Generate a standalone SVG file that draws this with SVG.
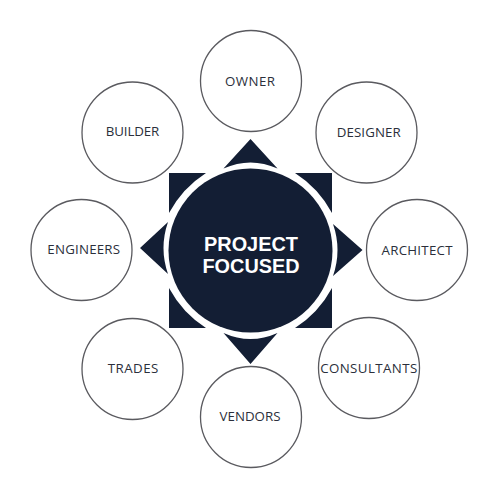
<svg xmlns="http://www.w3.org/2000/svg" width="500" height="500" viewBox="0 0 500 500">
  <style>
    .node circle { fill: #ffffff; stroke: #5a5a5f; stroke-width: 1.3; }
    .node text { font-family: "Open Sans", "Liberation Sans", sans-serif; font-size: 13.3px; fill: #2b2f3b; text-anchor: middle; }
    .dark { fill: #131e34; }
    .center-label { font-family: "Liberation Sans", Arial, sans-serif; font-weight: 700; font-size: 19.5px; fill: #ffffff; text-anchor: middle; }
  </style>
  <rect width="500" height="500" fill="#ffffff"/>

  <g id="node-owner" class="node">
    <circle cx="251" cy="81" r="50.5"/>
    <text x="250" y="85.7" textLength="50">OWNER</text>
  </g>
  <g id="node-designer" class="node">
    <circle cx="366.5" cy="132.5" r="50.5"/>
    <text x="368.7" y="136.7" textLength="64">DESIGNER</text>
  </g>
  <g id="node-architect" class="node">
    <circle cx="417" cy="250" r="50.5"/>
    <text x="417" y="254.7" textLength="71">ARCHITECT</text>
  </g>
  <g id="node-consultants" class="node">
    <circle cx="369" cy="368" r="50.5"/>
    <text x="368.7" y="373.3" textLength="97">CONSULTANTS</text>
  </g>
  <g id="node-vendors" class="node">
    <circle cx="251" cy="417" r="50.5"/>
    <text x="250" y="421" textLength="61">VENDORS</text>
  </g>
  <g id="node-trades" class="node">
    <circle cx="132.5" cy="369" r="50.5"/>
    <text x="133" y="373.3" textLength="50.6">TRADES</text>
  </g>
  <g id="node-engineers" class="node">
    <circle cx="81.5" cy="250" r="50.5"/>
    <text x="83.7" y="254.3" textLength="72.7">ENGINEERS</text>
  </g>
  <g id="node-builder" class="node">
    <circle cx="132.5" cy="132.5" r="50.5"/>
    <text x="132.5" y="136" textLength="53.6">BUILDER</text>
  </g>

  <g id="connectors" class="dark">
    <path d="M250.5 139 L277.5 168.5 Q250.5 156.5 223.5 168.5 Z"/>
    <path d="M362.5 250 L333 276 Q342 250 333 224 Z"/>
    <path d="M250.5 364 L223.5 333 Q250.5 345 277.5 333 Z"/>
    <path d="M140 248 L168 222 Q159 248 168 274 Z"/>
    <path d="M169 173 L206 173 Q182.5 188 169 213 Z"/>
    <path d="M332 173 L332 213 Q318.5 188 295 173 Z"/>
    <path d="M332 328 L295 328 Q318.5 313 332 288 Z"/>
    <path d="M169 328 L169 288 Q182.5 313 206 328 Z"/>
  </g>

  <g id="node-project-focused">
    <circle class="dark" cx="250.5" cy="250.5" r="82"/>
    <text class="center-label" x="251" y="250.7" textLength="94" lengthAdjust="spacingAndGlyphs">PROJECT</text>
    <text class="center-label" x="251" y="272.7" textLength="97" lengthAdjust="spacingAndGlyphs">FOCUSED</text>
  </g>
</svg>
